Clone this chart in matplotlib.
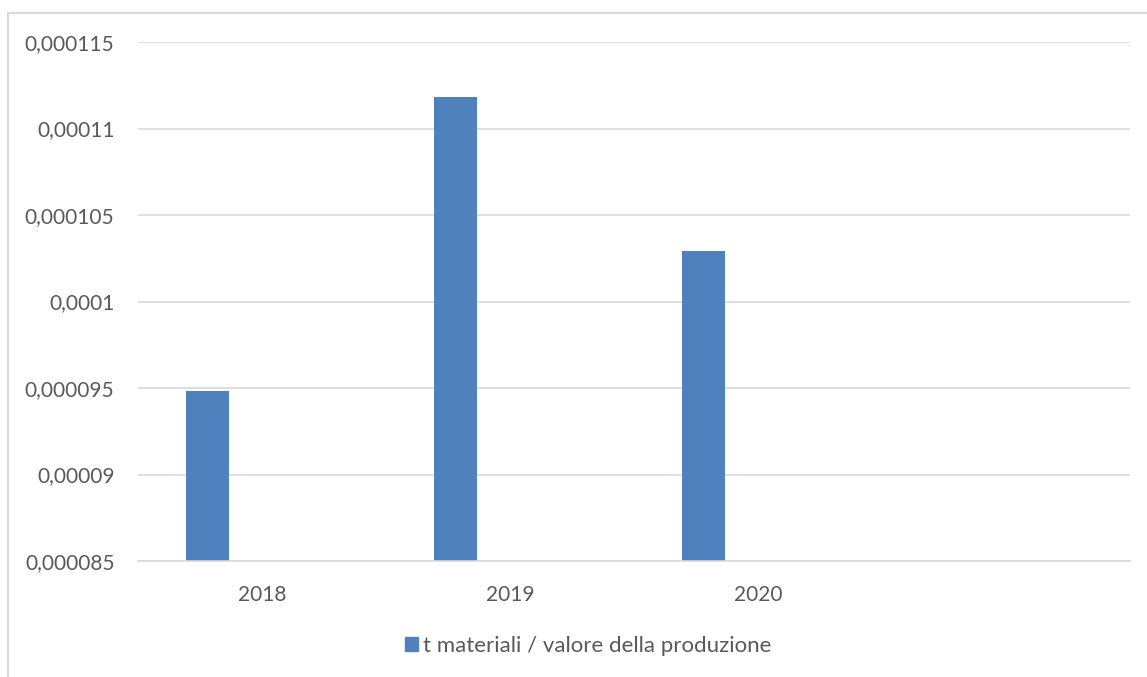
import matplotlib
matplotlib.use("Agg")
import matplotlib.pyplot as plt
from matplotlib.patches import Rectangle, Patch

# ---------------- data ----------------
categories = ["2018", "2019", "2020", ""]
values = [0.0000948, 0.0001118, 0.0001029]
series_name = "t materiali / valore della produzione"
y_ticks = [0.000085, 0.00009, 0.000095, 0.0001, 0.000105, 0.00011, 0.000115]

bar_color = "#4F81BD"
grid_color = "#D9D9D9"
text_color = "#595959"

plt.rcParams["font.family"] = ["Lato", "DejaVu Sans"]

fig = plt.figure(figsize=(11.47, 6.77), dpi=100)
ax = fig.add_axes([138 / 1147, 1 - 561 / 677, (1130 - 138) / 1147, (561 - 42) / 677])

# chart outer frame (right and bottom run off the picture)
fig.patches.append(Rectangle((8 / 1147, -1), 2, 1 + (677 - 13) / 677, transform=fig.transFigure,
                             fill=False, edgecolor=grid_color, linewidth=1.5))

xs = list(range(len(values)))
ax.bar([x - 0.22 for x in xs], values, width=0.173, color=bar_color, zorder=3)

ax.set_xlim(-0.5, len(categories) - 0.5)
ax.set_ylim(y_ticks[0], y_ticks[-1])
ax.set_yticks(y_ticks)
ax.set_yticklabels([f"{v:.6f}".rstrip("0").replace(".", ",") for v in y_ticks])
ax.set_xticks(range(len(categories)))
ax.set_xticklabels(categories)

ax.grid(axis="y", color=grid_color, linewidth=1.2, zorder=0)
for s in ["top", "right", "left"]:
    ax.spines[s].set_visible(False)
ax.spines["bottom"].set_color(grid_color)
ax.spines["bottom"].set_linewidth(1.2)
ax.spines["bottom"].set_zorder(4)
ax.tick_params(axis="both", length=0, colors=text_color, labelsize=15)
ax.tick_params(axis="y", pad=17)
ax.tick_params(axis="x", pad=17)

fig.legend(handles=[Patch(color=bar_color, label=series_name)], loc="center",
           bbox_to_anchor=(588 / 1147, 1 - 646 / 677), frameon=False,
           fontsize=16, labelcolor=text_color, handlelength=0.6, handleheight=0.6,
           handletextpad=0.2)

fig.savefig("out.png", dpi=100)
